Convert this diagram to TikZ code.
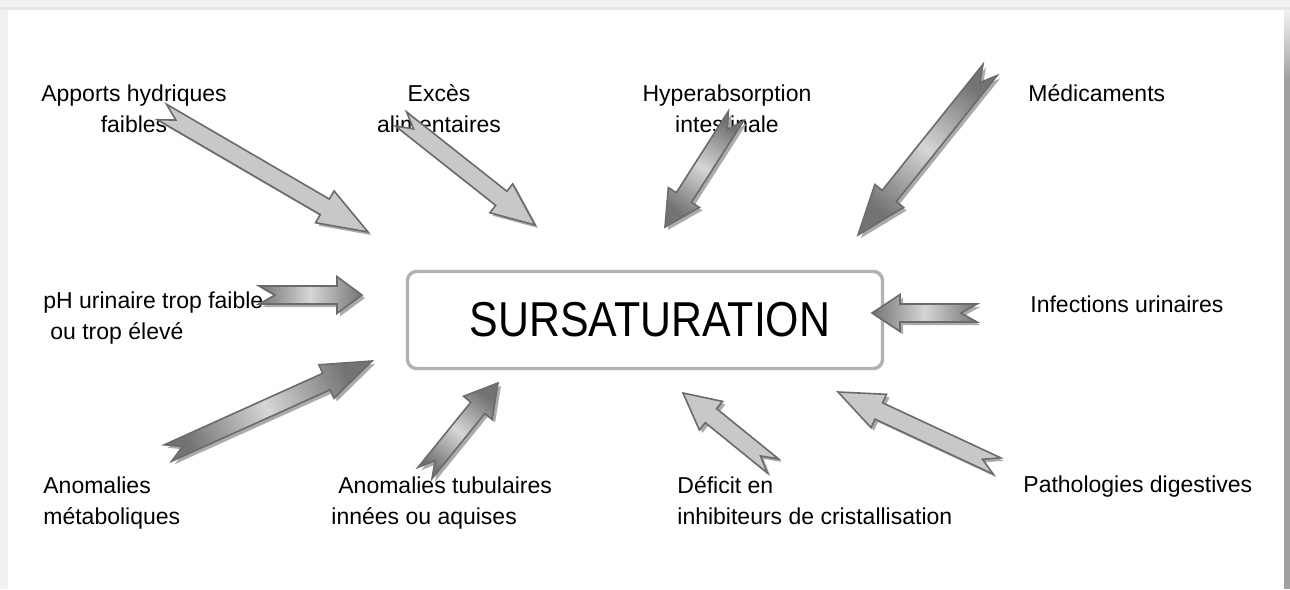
\documentclass[tikz,border=0pt]{standalone}
\usepackage{fontspec}
\setmainfont{Liberation Sans}
\usepackage{graphicx}
\usetikzlibrary{calc,shadows}

\definecolor{pagegray}{HTML}{F1F1F1}
\definecolor{pageline}{HTML}{E6E6E6}
\definecolor{sidegray}{HTML}{A0A0A0}
\definecolor{boxline}{HTML}{B2B2B2}
\definecolor{arrowline}{HTML}{6B6B6B}
\definecolor{arrowfill}{HTML}{C8C8C8}
\definecolor{arrowdark}{HTML}{737373}
\definecolor{arrowlight}{HTML}{D6D6D6}
\definecolor{shadowgray}{HTML}{ABABAB}

\tikzset{
  arrow shaft/.estore in=\shaftw,
  arrow head/.estore in=\headw,
  arrow len/.estore in=\headl,
  arrow notch/.estore in=\notchd,
  arrow shaft=4.5pt, arrow head=9.2pt, arrow len=22pt, arrow notch=8pt,
  blockarrow/.style={draw=arrowline, line width=0.8pt,
    drop shadow={shadow xshift=1.5pt, shadow yshift=-1.5pt, fill=shadowgray, opacity=1},
    to path={
      ($(\tikztostart)!\shaftw!90:(\tikztotarget)$)
      -- ($(\tikztotarget)!\headl!(\tikztostart)!\shaftw!-90:(\tikztostart)$)
      -- ($(\tikztotarget)!\headl!(\tikztostart)!\headw!-90:(\tikztostart)$)
      -- (\tikztotarget)
      -- ($(\tikztotarget)!\headl!(\tikztostart)!\headw!90:(\tikztostart)$)
      -- ($(\tikztotarget)!\headl!(\tikztostart)!\shaftw!90:(\tikztostart)$)
      -- ($(\tikztostart)!\shaftw!-90:(\tikztotarget)$)
      -- ($(\tikztostart)!\notchd!(\tikztotarget)$)
      -- cycle}},
  flatarrow/.style={blockarrow, fill=arrowfill},
  shadedarrow/.style={blockarrow, top color=arrowdark, bottom color=arrowdark,
    middle color=arrowlight, shading angle=#1},
  lbl/.style={font=\fontsize{11.5}{15.5}\selectfont, inner sep=0pt}
}

\begin{document}
\begin{tikzpicture}[x=0.5pt, y=-0.5pt]
  \path[use as bounding box] (0,0) rectangle (1290,589);
  % page
  \fill[pagegray] (0,0) rectangle (1290,589);
  \fill[pageline] (0,7) rectangle (1290,10);
  \fill[white] (8,10) rectangle (1284,589);
  \fill[top color=pagegray, bottom color=sidegray] (1284,10) rectangle (1290,80);
  \fill[sidegray] (1284,80) rectangle (1290,589);

  % centre
  \node[draw=boxline, line width=1.7pt, rounded corners=4.5pt, minimum width=237.5pt,
        minimum height=48.5pt, inner sep=0pt, fill=white] (sur) at (645,320)
        {\fontsize{24.5}{29}\selectfont\hspace*{5pt}\scalebox{0.875}[1]{SURSATURATION}};

  % causes
  \node[lbl, align=center] (apports) at (134,108.5) {Apports hydriques\\faibles};
  \node[lbl, align=center] (exces) at (439,108.5) {Excès\\alimentaires};
  \node[lbl, align=center] (hyper) at (727,108.5) {Hyperabsorption\\intestinale};
  \node[lbl, anchor=west] (medic) at (1028,93) {Médicaments};
  \node[lbl, anchor=west, align=left] (ph) at (43,318) {pH urinaire trop faible\\\hspace*{3.5pt}ou trop élevé};
  \node[lbl, anchor=west] (infect) at (1030,304) {Infections urinaires};
  \node[lbl, anchor=west, align=left] (metab) at (43,503.5) {Anomalies\\métaboliques};
  \node[lbl, anchor=west, align=left] (tubul) at (331,503.5) {\hspace*{3.5pt}Anomalies tubulaires\\innées ou aquises};
  \node[lbl, anchor=west, align=left] (defic) at (677,500.5) {Déficit en\\inhibiteurs de cristallisation};
  \node[lbl, anchor=west] (patho) at (1023,487) {Pathologies digestives};

  % arrow ends
  \coordinate (apT) at (162,112);  \coordinate (apH) at (368,232);
  \coordinate (exT) at (401,119);  \coordinate (exH) at (535,225);
  \coordinate (hyT) at (736,116);  \coordinate (hyH) at (665,227);
  \coordinate (meT) at (990,70);   \coordinate (meH) at (858,235);
  \coordinate (phT) at (259,295);  \coordinate (phH) at (362,295);
  \coordinate (inT) at (977,313);  \coordinate (inH) at (872,313);
  \coordinate (mtT) at (168,453);  \coordinate (mtH) at (372,361);
  \coordinate (tuT) at (425,473);  \coordinate (tuH) at (498,383);
  \coordinate (deT) at (773,466);  \coordinate (deH) at (683,393);
  \coordinate (paT) at (997,466);  \coordinate (paH) at (838,392);

  \foreach \src/\dst/\hl in {apT/apH/25pt, exT/exH/21.5pt, deT/deH/18pt, paT/paH/22.5pt}
    \path[flatarrow, arrow len=\hl] (\src) to (\dst);
  \foreach \src/\dst/\hl/\ang in {hyT/hyH/17.5pt/147, meT/meH/25pt/141, phT/phH/12.5pt/90,
      inT/inH/14pt/90, mtT/mtH/25pt/-66, tuT/tuH/16pt/-39}
    \path[shadedarrow=\ang, arrow len=\hl] (\src) to (\dst);
\end{tikzpicture}
\end{document}
